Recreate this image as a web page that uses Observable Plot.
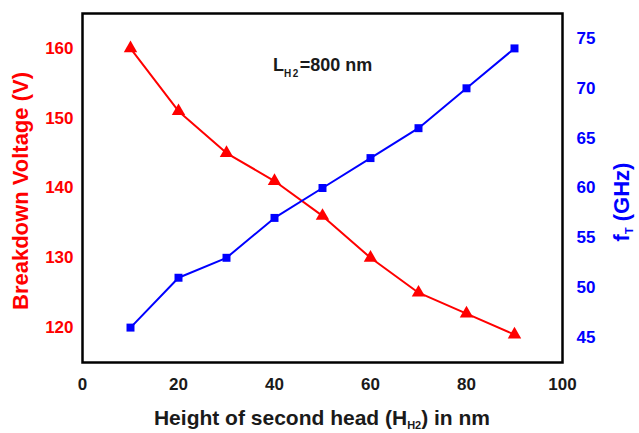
<!DOCTYPE html>
<html>
<head>
<meta charset="utf-8">
<script src="https://cdn.jsdelivr.net/npm/d3@7"></script>
<script src="https://cdn.jsdelivr.net/npm/@observablehq/plot@0.6"></script>
<style>
  body { margin: 0; background: #fff; }
  #chart svg { display: block; }
</style>
</head>
<body>
<div id="chart"></div>
<script>
// Height of the second head (nm)
const heights = [10, 20, 30, 40, 50, 60, 70, 80, 90];
// Breakdown voltage (V), left axis
const breakdownVoltage = [160, 151, 145, 141, 136, 130, 125, 122, 119];
// Cut-off frequency fT (GHz), right axis
const cutoffFreq = [46, 51, 53, 57, 60, 63, 66, 70, 74];

const xTicks = [0, 20, 40, 60, 80, 100];
const leftTicks = [120, 130, 140, 150, 160];
const rightTicks = [45, 50, 55, 60, 65, 70, 75];

const xDomain = [0, 100];
const leftDomain = [115, 165];
const rightDomain = [42.5, 77.5];

// Map right-axis values (GHz) onto the left y scale and back
const k = (leftDomain[1] - leftDomain[0]) / (rightDomain[1] - rightDomain[0]);
const toLeft = v => leftDomain[0] + (v - rightDomain[0]) * k;
const fromLeft = v => rightDomain[0] + (v - leftDomain[0]) / k;

const rows = heights.map((h, i) => ({
  h,
  bv: breakdownVoltage[i],
  ft: toLeft(cutoffFreq[i])
}));

const font = "'Liberation Sans', Arial, sans-serif";
const red = "#ff0000";
const blue = "#0000ff";
const ink = "#1a1a1a";

const plot = Plot.plot({
  width: 639,
  height: 433,
  marginLeft: 82,
  marginRight: 77,
  marginTop: 13,
  marginBottom: 71,
  style: { fontFamily: font, fontWeight: "bold", background: "#fff" },
  x: { domain: xDomain },
  y: { domain: leftDomain },
  marks: [
    Plot.axisX(xTicks, { tickSize: 0, tickPadding: 15, fontSize: 17, fill: ink, label: null }),
    Plot.axisY(leftTicks, { anchor: "left", tickSize: 0, tickPadding: 9, fontSize: 17, fill: red, label: null }),
    Plot.axisY(rightTicks.map(toLeft), {
      anchor: "right", tickSize: 0, tickPadding: 14, fontSize: 17, fill: blue, label: null,
      tickFormat: d => String(Math.round(fromLeft(d)))
    }),
    Plot.line(rows, { x: "h", y: "bv", stroke: red, strokeWidth: 2 }),
    Plot.dot(rows, { x: "h", y: "bv", symbol: "triangle", fill: red, stroke: "none", r: 5 }),
    Plot.line(rows, { x: "h", y: "ft", stroke: blue, strokeWidth: 2 }),
    Plot.dot(rows, { x: "h", y: "ft", symbol: "square", fill: blue, stroke: "none", r: 4.5 }),
    Plot.frame({ stroke: "#000", strokeWidth: 2.5 })
  ]
});

document.getElementById("chart").appendChild(plot);

// Titles with subscripts, added as SVG text with tspans
const svg = d3.select(plot);
const sx = plot.scale("x");
const sy = plot.scale("y");
const cx = (sx.range[0] + sx.range[1]) / 2;

// x-axis title
const xt = svg.append("text")
  .attr("x", cx).attr("y", 425)
  .attr("text-anchor", "middle")
  .attr("font-family", font).attr("font-weight", "bold")
  .attr("font-size", 21).attr("fill", ink);
xt.append("tspan").text("Height of second head (H");
xt.append("tspan").attr("font-size", 11).attr("dy", 4).text("H2");
xt.append("tspan").attr("dy", -4).text(") in nm");

// left y-axis title
svg.append("text")
  .attr("transform", "translate(28,191) rotate(-90)")
  .attr("text-anchor", "middle")
  .attr("font-family", font).attr("font-weight", "bold")
  .attr("font-size", 22).attr("fill", red)
  .text("Breakdown Voltage (V)");

// right y-axis title
const rt = svg.append("text")
  .attr("transform", "translate(629,202) rotate(-90)")
  .attr("text-anchor", "middle")
  .attr("font-family", font).attr("font-weight", "bold")
  .attr("font-size", 22).attr("fill", blue);
rt.append("tspan").text("f");
rt.append("tspan").attr("font-size", 11).attr("dy", 4).text("T");
rt.append("tspan").attr("dy", -4).text(" (GHz)");

// annotation inside the plot
const an = svg.append("text")
  .attr("x", sx.apply(39.8)).attr("y", sy.apply(156.7))
  .attr("text-anchor", "start")
  .attr("font-family", font).attr("font-weight", "bold")
  .attr("font-size", 18).attr("fill", ink);
an.append("tspan").text("L");
an.append("tspan").attr("font-size", 10).attr("dy", 6).attr("letter-spacing", 1.5).text("H2");
an.append("tspan").attr("dy", -6).text("=800 nm");
</script>
</body>
</html>
